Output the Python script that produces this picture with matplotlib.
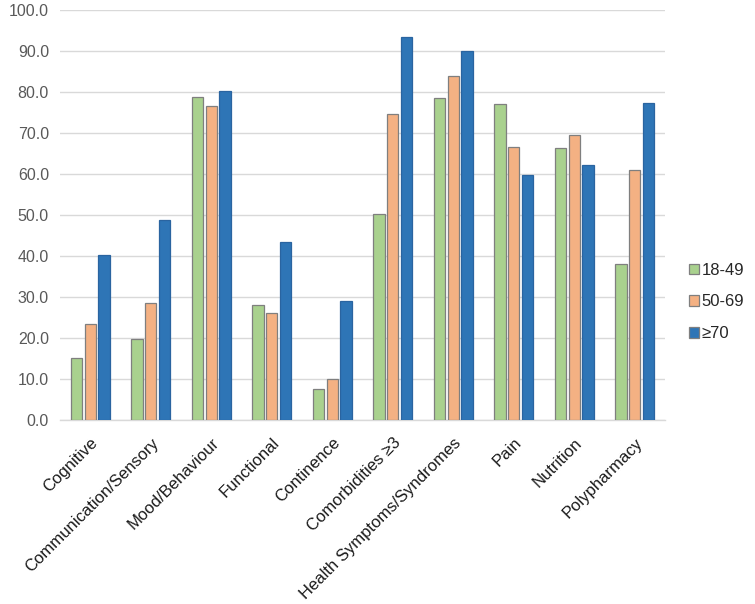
import matplotlib
matplotlib.use("Agg")
import matplotlib.pyplot as plt
import numpy as np

plt.rcParams['font.family'] = ['Liberation Sans', 'DejaVu Sans']

categories = ["Cognitive", "Communication/Sensory", "Mood/Behaviour", "Functional",
              "Continence", "Comorbidities ≥3", "Health Symptoms/Syndromes", "Pain",
              "Nutrition", "Polypharmacy"]
series_names = ["18-49", "50-69", "≥70"]
g18_49 = [15.2, 19.8, 78.8, 28.1, 7.6, 50.3, 78.5, 77.1, 66.3, 38.1]
g50_69 = [23.3, 28.5, 76.7, 26.0, 10.1, 74.6, 84.0, 66.7, 69.4, 61.0]
g70 = [40.2, 48.7, 80.2, 43.3, 29.1, 93.4, 90.0, 59.8, 62.2, 77.4]
yticks = [0, 10, 20, 30, 40, 50, 60, 70, 80, 90, 100]

colors = ["#A9D18E", "#F4B183", "#2E75B6"]
edges = ["#7F7F7F", "#7F7F7F", "#2A64A0"]

fig = plt.figure(figsize=(7.55, 6.04), dpi=100)
ax = fig.add_axes([60/755, 184/604, 605/755, 410/604])

x = np.arange(len(categories))
step = 0.225
width = 0.19
for i, (vals, c, e, n) in enumerate(zip([g18_49, g50_69, g70], colors, edges, series_names)):
    ax.bar(x + (i - 1) * step, vals, width, color=c, edgecolor=e, linewidth=0.9, label=n, zorder=3)

ax.set_xlim(-0.5, len(categories) - 0.5)
ax.set_ylim(0, 100)
ax.set_yticks(yticks)
ax.set_yticklabels([f"{v:.1f}" for v in yticks])
ax.yaxis.grid(True, color="#D9D9D9", linewidth=1.0, zorder=0)
for s in ["top", "right", "left"]:
    ax.spines[s].set_visible(False)
ax.spines["bottom"].set_color("#D9D9D9")
ax.spines["bottom"].set_linewidth(1.0)
ax.tick_params(axis="y", length=0, labelsize=11.5, labelcolor="#595959", pad=8)
ax.set_xticks(x)
ax.set_xticklabels(categories, rotation=45, ha="right", rotation_mode="anchor")
ax.tick_params(axis="x", length=0, labelsize=12, labelcolor="#1A1A1A", pad=11)

leg = ax.legend(loc="center left", bbox_to_anchor=(1.02, 0.288), frameon=False,
                fontsize=12, handlelength=0.6, handleheight=0.6, handletextpad=0.15,
                labelspacing=1.0, borderaxespad=0.3)
for h in leg.legend_handles:
    h.set_edgecolor("#7F7F7F")
for t in leg.get_texts():
    t.set_color("#262626")

fig.savefig("out.png", dpi=100)
